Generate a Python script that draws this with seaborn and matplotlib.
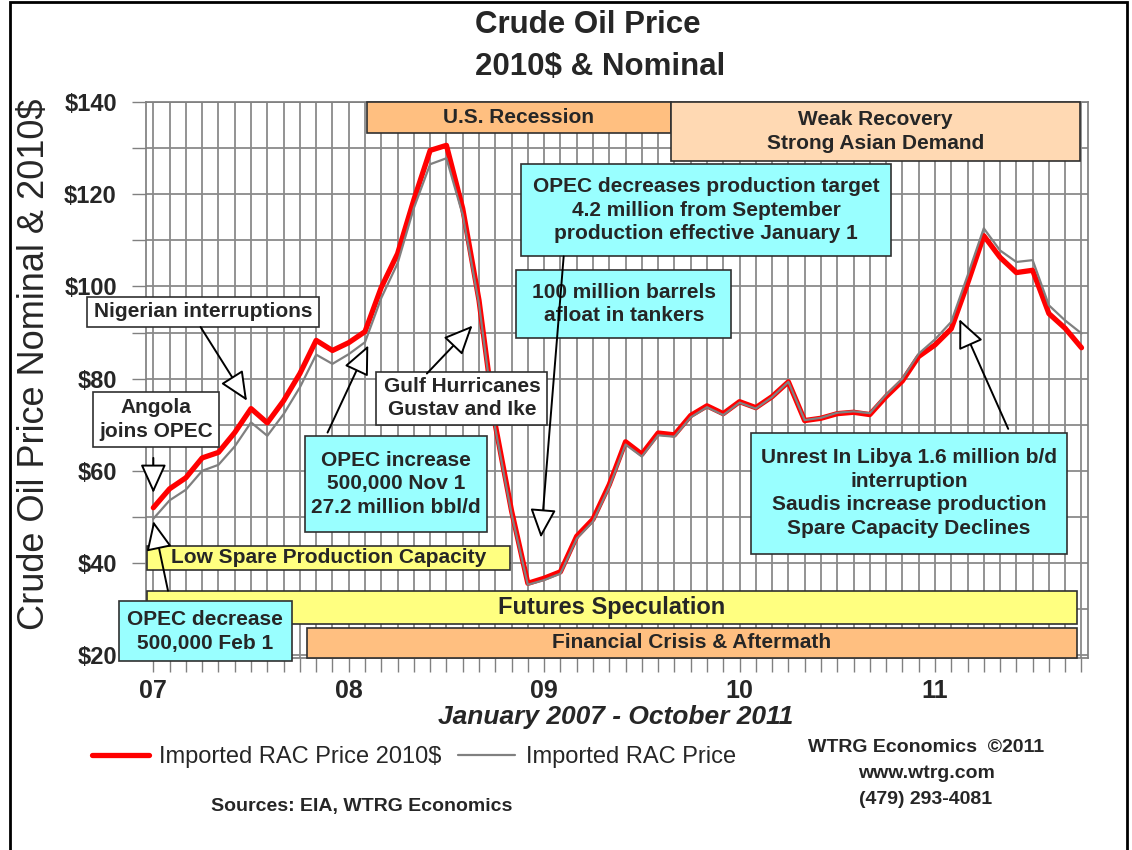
import numpy as np
import pandas as pd
import matplotlib
matplotlib.use('Agg')
import matplotlib.pyplot as plt
import seaborn as sns
from matplotlib.patches import Rectangle

# monthly imported refiner acquisition cost, Jan 2007 - Oct 2011
months = pd.date_range('2007-01-01', '2011-10-01', freq='MS')

real_2007 = [52.0, 56.1, 58.5, 62.8, 64.0, 68.3, 73.5, 70.4, 75.2, 81.1, 88.3, 86.1]
real_2008 = [87.8, 90.2, 99.8, 107.1, 118.8, 129.5, 130.6, 116.9, 97.0, 70.0, 51.3, 35.6]
real_2009 = [36.7, 38.1, 45.8, 49.5, 57.0, 66.3, 63.6, 68.2, 67.8, 72.0, 74.1, 72.4]
real_2010 = [75.0, 73.7, 76.1, 79.3, 70.9, 71.4, 72.4, 72.7, 72.2, 76.1, 79.5, 84.8]
real_2011 = [87.3, 90.8, 100.6, 111.0, 106.3, 103.0, 103.5, 94.1, 90.9, 86.7]

nominal_2007 = [49.6, 53.6, 55.9, 60.0, 61.3, 65.3, 70.5, 67.6, 72.3, 78.1, 85.2, 83.2]
nominal_2008 = [85.3, 87.9, 97.5, 105.0, 117.0, 126.5, 127.8, 115.5, 96.2, 69.2, 50.6, 35.3]
nominal_2009 = [36.3, 37.7, 45.3, 49.0, 56.5, 65.7, 63.1, 67.7, 67.4, 71.6, 73.8, 72.1]
nominal_2010 = [74.8, 73.5, 76.0, 79.3, 71.0, 71.5, 72.6, 72.9, 72.5, 76.5, 80.0, 85.4]
nominal_2011 = [88.5, 92.3, 102.3, 112.6, 107.8, 105.3, 105.7, 95.9, 92.6, 89.8]

year_labels = ['07', '08', '09', '10', '11']
price_ticks = [20, 40, 60, 80, 100, 120, 140]

real = real_2007 + real_2008 + real_2009 + real_2010 + real_2011
nominal = nominal_2007 + nominal_2008 + nominal_2009 + nominal_2010 + nominal_2011
df = pd.DataFrame({'month': np.arange(len(months)), 'real': real, 'nominal': nominal})

sns.set_theme(style='whitegrid')
plt.rcParams['font.family'] = ['Liberation Sans', 'DejaVu Sans']

W, H = 1132, 850
fig = plt.figure(figsize=(W / 100, H / 100), dpi=100)
ax = fig.add_axes([146 / W, 1 - 658 / H, (1088 - 146) / W, (658 - 102) / H])

sns.lineplot(data=df, x='month', y='real', ax=ax, color='#ff0000', linewidth=3.8,
             label='Imported RAC Price 2010$', zorder=6)
sns.lineplot(data=df, x='month', y='nominal', ax=ax, color='#808080', linewidth=1.6,
             label='Imported RAC Price', zorder=7)

ax.set_xlim(-0.45, 57.4)
ax.set_ylim(19.4, 140)
ax.set_xticks(np.arange(0, len(months), 12))
ax.set_xticklabels(year_labels, fontsize=18, fontweight='bold')
ax.set_xticks(np.arange(len(months)), minor=True)
ax.set_yticks(price_ticks)
ax.set_yticklabels([f'${v}' for v in price_ticks], fontsize=17, fontweight='bold')
ax.set_yticks(np.arange(30, 140, 20), minor=True)
ax.grid(True, which='both', color='#8a8a8a', linewidth=1.3)
ax.set_axisbelow(True)
ax.tick_params(axis='both', which='both', direction='out', length=10, width=1,
               color='#808080', bottom=True, left=True)
ax.tick_params(axis='y', pad=11)
ax.tick_params(axis='x', pad=5)
for s in ax.spines.values():
    s.set_color('#808080')
ax.set_xlabel('')
ax.set_ylabel('')
handles, labels = ax.get_legend_handles_labels()
ax.get_legend().remove()

CYAN = '#99ffff'
YELLOW = '#ffff80'
ORANGE = '#ffbf80'
PEACH = '#ffd9b3'
WHITE = '#ffffff'


def box(x0, y0, x1, y1, color, text, z=8, fs=15):
    ax.add_patch(Rectangle((x0, y0), x1 - x0, y1 - y0, facecolor=color, edgecolor='#303030',
                           linewidth=1.2, zorder=z, clip_on=False))
    ax.text((x0 + x1) / 2, (y0 + y1) / 2, text, ha='center', va='center', fontsize=fs,
            fontweight='bold', linespacing=1.3, zorder=z + 0.1, clip_on=False)


def arrow(tail, tip):
    ax.annotate('', xy=tip, xytext=tail, annotation_clip=False, zorder=10,
                arrowprops=dict(arrowstyle='-|>,head_length=0.6,head_width=0.27',
                                mutation_scale=30, fc='white', ec='black', lw=1.4,
                                shrinkA=0, shrinkB=0))


box(13.1, 133.3, 31.8, 140.0, ORANGE, 'U.S. Recession')
box(31.8, 127.2, 56.9, 140.0, PEACH, 'Weak Recovery\nStrong Asian Demand')
box(22.6, 106.5, 45.3, 126.5, CYAN,
    'OPEC decreases production target\n4.2 million from September\nproduction effective January 1')
box(22.3, 88.9, 35.5, 103.5, CYAN, '100 million barrels\nafloat in tankers')
box(-4.1, 91.3, 10.2, 97.6, WHITE, 'Nigerian interruptions')
box(-3.7, 65.2, 4.05, 77.0, WHITE, 'Angola\njoins OPEC')
box(13.7, 70.0, 24.2, 81.5, WHITE, 'Gulf Hurricanes\nGustav and Ike')
box(9.3, 46.7, 20.5, 67.6, CYAN, 'OPEC increase\n500,000 Nov 1\n27.2 million bbl/d')
box(-0.4, 38.5, 21.9, 43.7, YELLOW, 'Low Spare Production Capacity')
box(-0.4, 26.7, 56.7, 33.9, YELLOW, 'Futures Speculation', fs=17)
box(9.45, 19.5, 56.7, 25.9, ORANGE, 'Financial Crisis & Aftermath')
box(-2.1, 18.7, 8.5, 31.7, CYAN, 'OPEC decrease\n500,000 Feb 1', z=8.5)
box(36.7, 42.0, 56.1, 68.3, CYAN,
    'Unrest In Libya 1.6 million b/d\ninterruption\nSaudis increase production\nSpare Capacity Declines')

arrow((2.9, 91.2), (5.75, 75.2))
arrow((0.0, 62.8), (0.0, 55.2))
arrow((0.9, 34.0), (0.0, 49.1))
arrow((10.7, 68.3), (13.2, 87.2))
arrow((16.8, 81.1), (19.6, 91.5))
arrow((25.2, 106.5), (23.8, 45.5))
arrow((52.5, 69.1), (49.5, 92.9))

# titles and surrounding text
fig.text(588 / W, 1 - 25 / H, 'Crude Oil Price', ha='center', va='center', fontsize=22.5, fontweight='bold')
fig.text(600 / W, 1 - 67 / H, '2010$ & Nominal', ha='center', va='center', fontsize=22.5, fontweight='bold')
fig.text(35 / W, 1 - 364 / H, 'Crude Oil Price Nominal & 2010$', rotation=90, ha='center',
         va='center', fontsize=26)
fig.text(616 / W, 1 - 717 / H, 'January 2007 - October 2011', ha='center', va='center',
         fontsize=19, fontweight='bold', fontstyle='italic')
fig.legend(handles, labels, loc='center', bbox_to_anchor=(414 / W, 1 - 757 / H), ncol=2,
           frameon=False, fontsize=17, handlelength=2.4, columnspacing=0.7, handletextpad=0.45)
fig.text(926 / W, 1 - 747 / H, 'WTRG Economics  \u00a92011', ha='center', va='center',
         fontsize=14, fontweight='bold')
fig.text(926 / W, 1 - 773 / H, 'www.wtrg.com', ha='center', va='center', fontsize=14, fontweight='bold')
fig.text(926 / W, 1 - 800 / H, '(479) 293-4081', ha='center', va='center', fontsize=14, fontweight='bold')
fig.text(362 / W, 1 - 806 / H, 'Sources: EIA, WTRG Economics', ha='center', va='center',
         fontsize=14, fontweight='bold')

fig.patches.append(Rectangle((10 / W, -0.05), (1127 - 10) / W, 1.05 - 2 / H, transform=fig.transFigure,
                             fill=False, edgecolor='black', linewidth=2))

fig.savefig('out.png', dpi=100)
